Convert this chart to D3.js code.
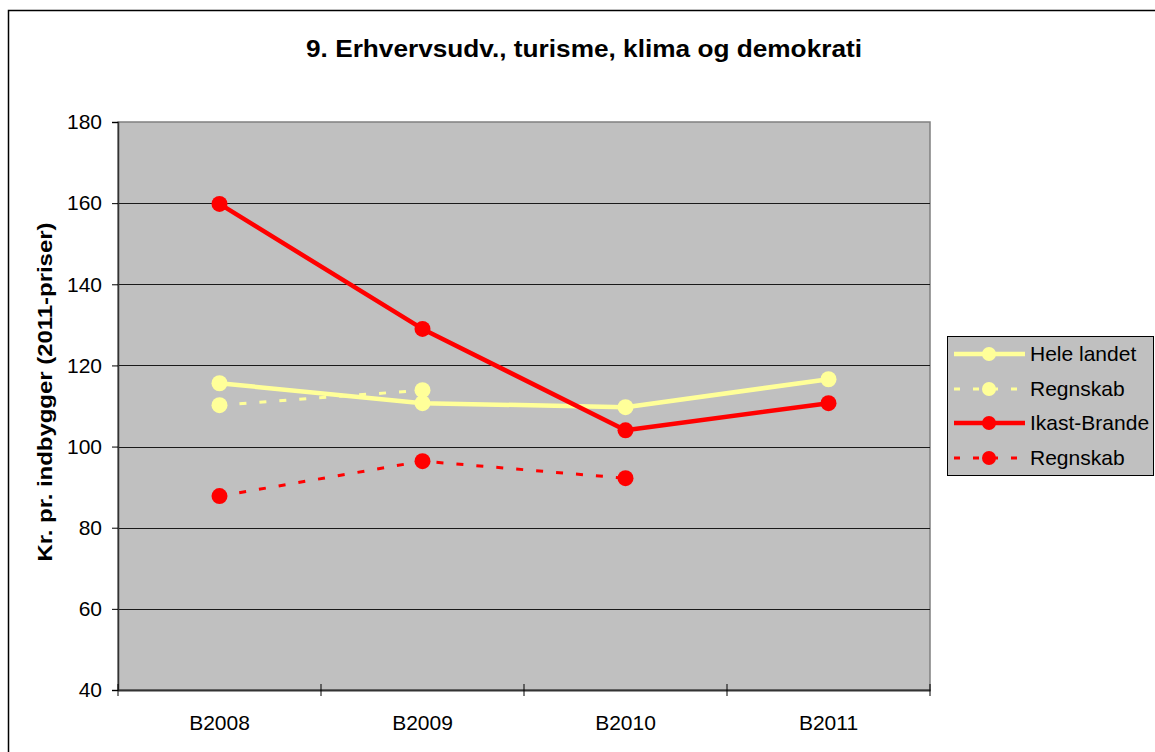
<!DOCTYPE html>
<html>
<head>
<meta charset="utf-8">
<script src="https://cdn.jsdelivr.net/npm/d3@7"></script>
<style>
  html, body { margin: 0; padding: 0; background: #fff; }
  svg { display: block; font-family: "Liberation Sans", Arial, sans-serif; }
</style>
</head>
<body>
<svg id="chart" width="1155" height="752"></svg>
<script>
const categories = ["B2008", "B2009", "B2010", "B2011"];
const heleLandet = [115.6, 110.7, 109.7, 116.6];
const regnskabLandet = [110.2, 113.9, null, null];
const ikastBrande = [159.8, 129.0, 104.0, 110.7];
const regnskabIkast = [87.8, 96.4, 92.2, null];
const yTicks = [40, 60, 80, 100, 120, 140, 160, 180];
const title = "9. Erhvervsudv., turisme, klima og demokrati";
const yTitle = "Kr. pr. indbygger (2011-priser)";

const series = [
  { name: "Hele landet", values: heleLandet, color: "#FFFF99", dashed: false },
  { name: "Regnskab", values: regnskabLandet, color: "#FFFF99", dashed: true },
  { name: "Ikast-Brande", values: ikastBrande, color: "#FF0000", dashed: false },
  { name: "Regnskab", values: regnskabIkast, color: "#FF0000", dashed: true }
];

(function () {
const svg = d3.select("#chart");
const FONT = "Liberation Sans, Arial, sans-serif";

// outer frame
svg.append("rect").attr("x", 8.5).attr("y", 10.5).attr("width", 1160).attr("height", 760)
  .attr("fill", "#fff").attr("stroke", "#000").attr("stroke-width", 1.5);

const pLeft = 118, pRight = 930, pTop = 122, pBottom = 690;

const x = d3.scaleBand().domain(categories).range([pLeft, pRight]);
const y = d3.scaleLinear().domain([40, 180]).range([pBottom, pTop]);

// plot area
svg.append("rect").attr("x", pLeft).attr("y", pTop).attr("width", pRight - pLeft).attr("height", pBottom - pTop)
  .attr("fill", "#C0C0C0").attr("stroke", "#808080").attr("stroke-width", 1.5);

// gridlines
svg.append("g").selectAll("line").data(yTicks.filter(d => d > 40 && d < 180)).join("line")
  .attr("x1", pLeft).attr("x2", pRight)
  .attr("y1", d => Math.round(y(d)) + 0.5).attr("y2", d => Math.round(y(d)) + 0.5)
  .attr("stroke", "#1a1a1a").attr("stroke-width", 1);

// y axis
const yAxis = svg.append("g").attr("transform", `translate(${pLeft},0)`)
  .call(d3.axisLeft(y).tickValues(yTicks).tickSize(6).tickPadding(10));
yAxis.select(".domain").attr("stroke", "#333").attr("stroke-width", 1.5);
yAxis.selectAll(".tick line").attr("stroke", "#000");
yAxis.selectAll("text").attr("font-size", 21).attr("fill", "#000").attr("font-family", FONT);

// x axis
const xAxis = svg.append("g").attr("transform", `translate(0,${pBottom})`)
  .call(d3.axisBottom(x).tickSize(0).tickPadding(25));
xAxis.select(".domain").attr("stroke", "#333").attr("stroke-width", 2);
xAxis.selectAll("text").attr("font-size", 21).attr("fill", "#000").attr("font-family", FONT);
// category boundary ticks
const bounds = categories.map(c => x(c)).concat([x(categories[categories.length - 1]) + x.bandwidth()]);
svg.append("g").selectAll("line").data(bounds).join("line")
  .attr("x1", d => d).attr("x2", d => d).attr("y1", pBottom - 6).attr("y2", pBottom + 6)
  .attr("stroke", "#000").attr("stroke-width", 1);

// lines
const cx = c => x(c) + x.bandwidth() / 2;
const line = d3.line().defined(d => d[1] != null).x(d => cx(d[0])).y(d => y(d[1]));
const plotG = svg.append("g");
series.forEach(s => {
  const pts = categories.map((c, i) => [c, s.values[i]]);
  plotG.append("path").datum(pts).attr("d", line)
    .attr("fill", "none").attr("stroke", s.color)
    .attr("stroke-width", s.dashed ? 3 : 4.5)
    .attr("stroke-dasharray", s.dashed ? "7,13" : null)
    .attr("stroke-linejoin", "round");
});
series.forEach(s => {
  const pts = categories.map((c, i) => [c, s.values[i]]).filter(d => d[1] != null);
  plotG.append("g").selectAll("circle").data(pts).join("circle")
    .attr("cx", d => cx(d[0])).attr("cy", d => y(d[1])).attr("r", 8)
    .attr("fill", s.color);
});

// title
svg.append("text").attr("x", 584).attr("y", 57).attr("text-anchor", "middle")
  .attr("font-size", 24).attr("font-weight", "bold").attr("font-family", FONT)
  .attr("textLength", 556).attr("lengthAdjust", "spacingAndGlyphs").text(title);

// y title
svg.append("text").attr("transform", `translate(52,${392}) rotate(-90)`)
  .attr("text-anchor", "middle").attr("font-size", 21).attr("font-weight", "bold").attr("font-family", FONT)
  .attr("textLength", 339).attr("lengthAdjust", "spacingAndGlyphs").text(yTitle);

// legend
const lg = svg.append("g");
lg.append("rect").attr("x", 947.5).attr("y", 336.5).attr("width", 206).attr("height", 139)
  .attr("fill", "#C0C0C0").attr("stroke", "#000").attr("stroke-width", 1);
const ly = [354, 389, 423, 458];
series.forEach((s, i) => {
  const g = lg.append("g");
  g.append("line").attr("x1", 954).attr("x2", 1025).attr("y1", ly[i]).attr("y2", ly[i])
    .attr("stroke", s.color).attr("stroke-width", s.dashed ? 3 : 4.5)
    .attr("stroke-dasharray", s.dashed ? "6,13" : null);
  g.append("circle").attr("cx", 989).attr("cy", ly[i]).attr("r", 7).attr("fill", s.color);
  g.append("text").attr("x", 1030).attr("y", ly[i] + 7).attr("font-size", 21).attr("fill", "#000")
    .attr("font-family", FONT).text(s.name);
});
})();
</script>
</body>
</html>
